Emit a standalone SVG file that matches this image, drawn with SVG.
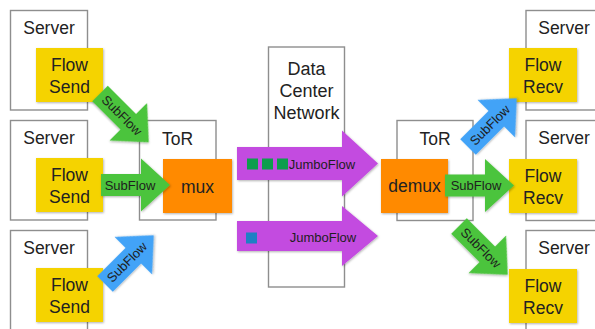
<svg xmlns="http://www.w3.org/2000/svg" width="595" height="329" viewBox="0 0 595 329">
  <style>
    .box { fill: #ffffff; stroke: #8e8e8e; stroke-width: 1.4; }
    .flow { fill: #f5d300; filter: url(#shadow); }
    .sw { fill: #ff8a00; filter: url(#shadow); }
    .lbl { font-family: "Liberation Sans", Arial, sans-serif; font-size: 17.5px; fill: #222222; text-anchor: middle; }
    .dcn { font-family: "Liberation Sans", Arial, sans-serif; font-size: 18px; fill: #222222; text-anchor: middle; }
    .sub { font-family: "Liberation Sans", Arial, sans-serif; font-size: 13px; fill: #1e1e1e; text-anchor: middle; }
    .green { fill: #4cc43c; filter: url(#shadow); }
    .blue { fill: #42a3f7; filter: url(#shadow); }
    .purple { fill: #c34be0; filter: url(#shadow); }
  </style>
  <defs>
    <filter id="shadow" x="-10%" y="-10%" width="130%" height="130%">
      <feDropShadow dx="0.8" dy="1" stdDeviation="0.8" flood-color="#000000" flood-opacity="0.3"/>
    </filter>
    <!-- block arrow, tail at origin, pointing along +x -->
    <path id="subflow" d="M0,-11 H40 V-26.5 L69,0 L40,26.5 V11 H0 Z"/>
  </defs>

  <!-- sending servers -->
  <g id="server-send-1">
    <rect class="box" x="10.5" y="10.5" width="77" height="99.5"/>
    <text class="lbl" x="49" y="34">Server</text>
    <rect class="flow" x="36" y="48" width="67" height="54"/>
    <text class="lbl" x="69.5" y="71">Flow</text>
    <text class="lbl" x="69.5" y="92.5">Send</text>
  </g>
  <g id="server-send-2">
    <rect class="box" x="10.5" y="120.5" width="77" height="99.5"/>
    <text class="lbl" x="49" y="144">Server</text>
    <rect class="flow" x="36" y="158" width="67" height="54"/>
    <text class="lbl" x="69.5" y="181">Flow</text>
    <text class="lbl" x="69.5" y="202.5">Send</text>
  </g>
  <g id="server-send-3">
    <rect class="box" x="10.5" y="230.5" width="77" height="110"/>
    <text class="lbl" x="49" y="254">Server</text>
    <rect class="flow" x="36" y="268" width="67" height="54"/>
    <text class="lbl" x="69.5" y="291">Flow</text>
    <text class="lbl" x="69.5" y="312.5">Send</text>
  </g>

  <!-- top-of-rack switches -->
  <g id="tor-mux">
    <rect class="box" x="139.5" y="120.5" width="76.5" height="99.5"/>
    <text class="lbl" x="177.5" y="145">ToR</text>
    <rect class="sw" x="163" y="159" width="69" height="54"/>
    <text class="lbl" x="197.5" y="192.5">mux</text>
  </g>
  <g id="tor-demux">
    <rect class="box" x="397" y="120.5" width="76" height="100"/>
    <text class="lbl" x="435" y="145">ToR</text>
    <rect class="sw" x="381" y="159" width="67" height="54"/>
    <text class="lbl" x="414.5" y="192">demux</text>
  </g>

  <!-- data center network -->
  <g id="dcn">
    <rect class="box" x="268.5" y="47" width="76" height="240"/>
    <text class="dcn" x="306.5" y="75">Data</text>
    <text class="dcn" x="306.5" y="97">Center</text>
    <text class="dcn" x="306.5" y="119">Network</text>
  </g>

  <!-- receiving servers -->
  <g id="server-recv-1">
    <rect class="box" x="526" y="10.5" width="80" height="99.5"/>
    <text class="lbl" x="564" y="34">Server</text>
    <rect class="flow" x="509" y="48" width="68" height="54"/>
    <text class="lbl" x="543" y="71">Flow</text>
    <text class="lbl" x="543" y="92.5">Recv</text>
  </g>
  <g id="server-recv-2">
    <rect class="box" x="526" y="120.5" width="80" height="100"/>
    <text class="lbl" x="564" y="144">Server</text>
    <rect class="flow" x="509" y="159" width="68" height="54"/>
    <text class="lbl" x="543" y="182">Flow</text>
    <text class="lbl" x="543" y="203.5">Recv</text>
  </g>
  <g id="server-recv-3">
    <rect class="box" x="526" y="230.5" width="80" height="110"/>
    <text class="lbl" x="564" y="254">Server</text>
    <rect class="flow" x="509" y="269" width="68" height="54"/>
    <text class="lbl" x="543" y="292">Flow</text>
    <text class="lbl" x="543" y="313.5">Recv</text>
  </g>

  <!-- flows -->
  <g id="connectors">
    <g transform="translate(100,93.5) rotate(45)">
      <use href="#subflow" class="green"/>
      <text class="sub" x="31" y="4.5">SubFlow</text>
    </g>
    <g transform="translate(101,185)">
      <use href="#subflow" class="green"/>
      <text class="sub" x="29" y="4.5">SubFlow</text>
    </g>
    <g transform="translate(105,284) rotate(-45)">
      <use href="#subflow" class="blue"/>
      <text class="sub" x="31" y="4.5">SubFlow</text>
    </g>

    <g id="jumbo-1">
      <path class="purple" d="M237,147 H342 V130.5 L378,163.5 L342,196.5 V180 H237 Z"/>
      <rect x="247" y="158.5" width="11" height="11" fill="#0c9e4c"/>
      <rect x="262" y="158.5" width="11" height="11" fill="#0c9e4c"/>
      <rect x="277" y="158.5" width="11" height="11" fill="#0c9e4c"/>
      <text class="sub" x="322" y="169">JumboFlow</text>
    </g>
    <g id="jumbo-2">
      <path class="purple" d="M237,221 H342 V206 L378,236 L342,266 V251 H237 Z"/>
      <rect x="246" y="232.5" width="11" height="11" fill="#1f80c4"/>
      <text class="sub" x="323" y="241.5">JumboFlow</text>
    </g>

    <g transform="translate(468,147) rotate(-45)">
      <use href="#subflow" class="blue"/>
      <text class="sub" x="31" y="4.5">SubFlow</text>
    </g>
    <g transform="translate(445,185.5)">
      <use href="#subflow" class="green"/>
      <text class="sub" x="31" y="4.5">SubFlow</text>
    </g>
    <g transform="translate(459,226) rotate(45)">
      <use href="#subflow" class="green"/>
      <text class="sub" x="31" y="4.5">SubFlow</text>
    </g>
  </g>
</svg>
